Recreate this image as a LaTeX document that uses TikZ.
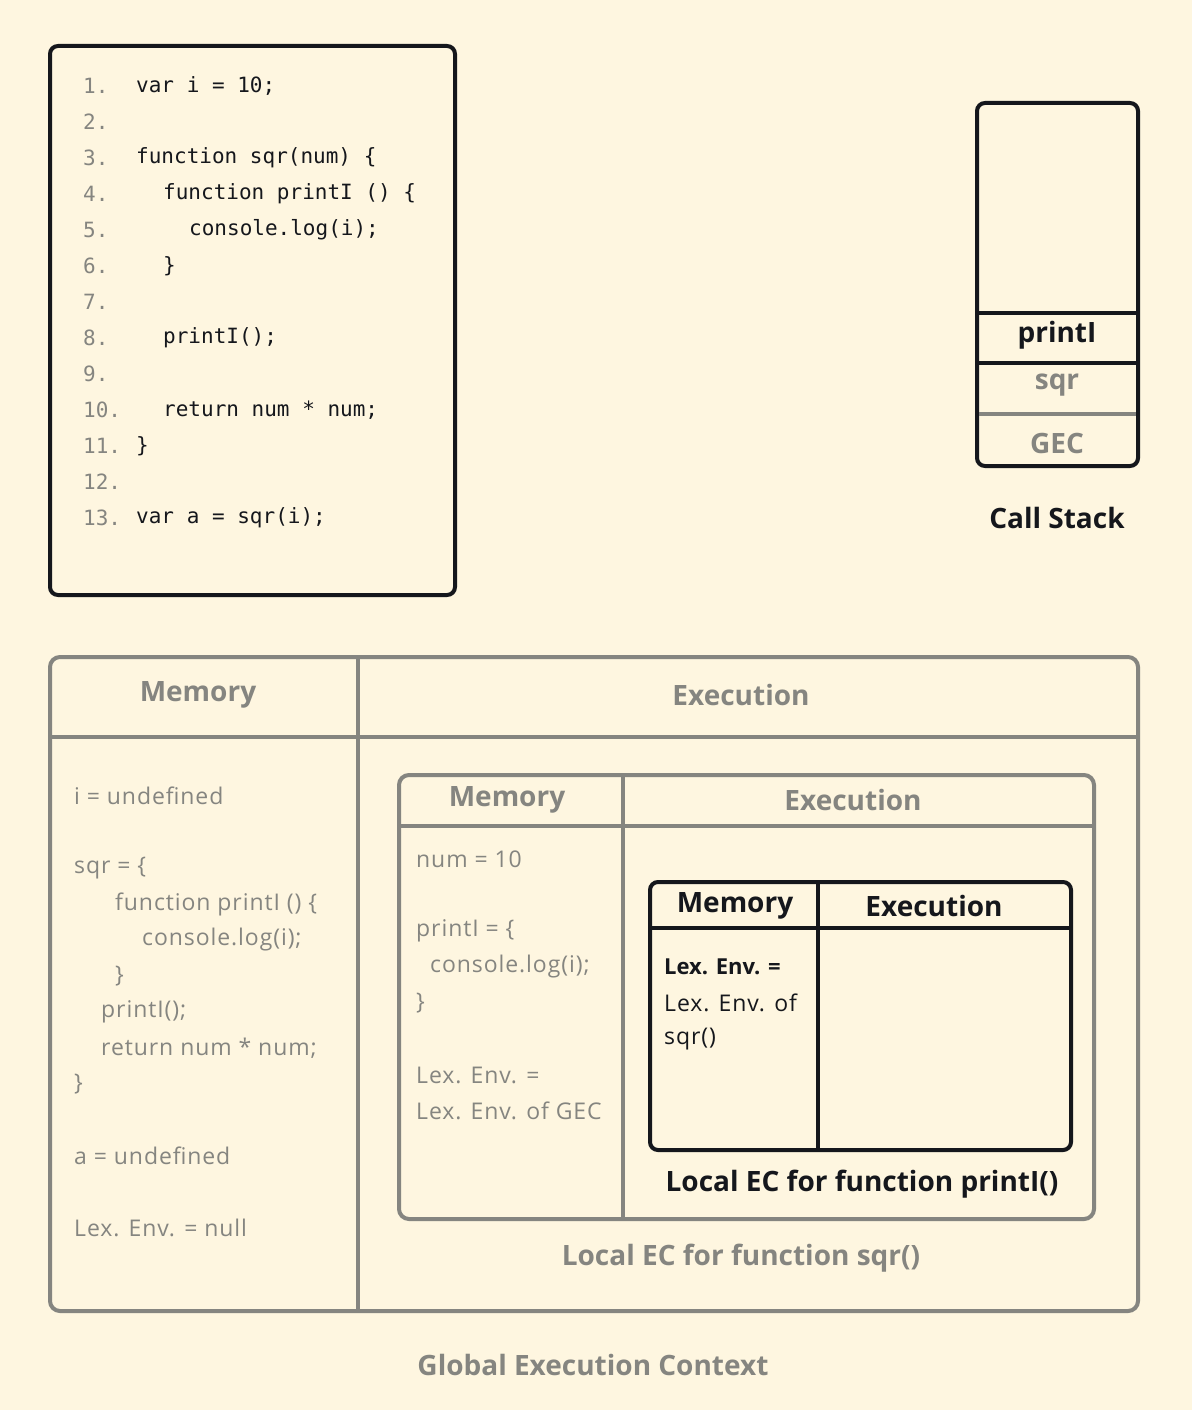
\documentclass[tikz,border=0pt]{standalone}
\usepackage{fontspec}
\setmainfont{Open Sans}
\newfontfamily\codefont{DejaVu Sans Mono}
\definecolor{bg}{HTML}{FEF6E0}
\definecolor{gr}{HTML}{858580}
\definecolor{dk}{HTML}{15171C}
\begin{document}
\begin{tikzpicture}[x=1pt,y=-1pt,
  dbox/.style={draw=dk,line width=4pt,rounded corners=8pt},
  gbox/.style={draw=gr,line width=4pt,rounded corners=10pt},
  code/.style={anchor=west,text=dk,font=\codefont\fontsize{21}{24}\selectfont,inner sep=0pt},
  num/.style={code,text=gr},
  big/.style={font=\bfseries\fontsize{28}{32}\selectfont,inner sep=0pt},
  txt/.style={anchor=west,inner sep=0pt,text=gr,font=\fontsize{23}{26}\selectfont\addfontfeature{LetterSpace=4}}]
\fill[bg] (0,0) rectangle (1192,1410);
\useasboundingbox (0,0) rectangle (1192,1410);
% code box
\draw[dbox] (50,46) rectangle (455,595);
\foreach \n/\y in {1/86,2/122,3/158,4/194,5/230,6/266,7/302,8/338,9/374,10/410,11/446,12/482,13/518}
  \node[num] (n\n) at (83,\y) {\n.};
\node[code] (c1) at (136,86) {var i = 10;};
\node[code] (c3) at (136,158) {function sqr(num) \{};
\node[code] (c4) at (163,194) {function printI () \{};
\node[code] (c5) at (189,230) {console.log(i);};
\node[code] (c6) at (163,266) {\}};
\node[code] (c8) at (163,338) {printI();};
\node[code] (c10) at (163,410) {return num * num;};
\node[code] (c11) at (136,446) {\}};
\node[code] (c13) at (136,518) {var a = sqr(i);};
% call stack
\draw[dbox] (977,103) rectangle (1138,466);
\draw[dk,line width=4pt] (977,313) -- (1138,313) (977,363) -- (1138,363);
\draw[gr,line width=4pt] (979,414) -- (1136,414);
\node[big,text=dk] (sp) at (1057,335) {printI};
\node[big,text=gr] (ss) at (1057,385) {sqr};
\node[big,text=gr] (sg) at (1057,443) {GEC};
\node[big,text=dk] (cs) at (1057,518) {Call Stack};
% GEC
\draw[gbox] (50,657) rectangle (1138,1311);
\draw[gr,line width=4pt] (358,657) -- (358,1311) (50,737) -- (1138,737);
\node[big,text=gr] (gm) at (198,695) {Memory};
\node[big,text=gr] (ge) at (741,695) {Execution};
\node[txt] at (74,796) {i = undefined};
\node[txt] at (74,868) {sqr = \{};
\node[txt] at (115,904) {function printI () \{};
\node[txt] at (142,940) {console.log(i);};
\node[txt] at (115,976) {\}};
\node[txt] at (101,1012) {printI();};
\node[txt] at (101,1048) {return num * num;};
\node[txt] at (74,1084) {\}};
\node[txt] at (74,1156) {a = undefined};
\node[txt] at (74,1228) {Lex. Env. = null};
% sqr EC
\draw[gbox] (399,775) rectangle (1094,1219);
\draw[gr,line width=4pt] (623,775) -- (623,1219) (399,826) -- (1094,826);
\node[big,text=gr] (sm) at (507,800) {Memory};
\node[big,text=gr] (se) at (853,800) {Execution};
\node[txt] at (416,859) {num = 10};
\node[txt] at (416,931) {printI = \{};
\node[txt] at (430,967) {console.log(i);};
\node[txt] at (416,1003) {\}};
\node[txt] at (416,1075) {Lex. Env. =};
\node[txt] at (416,1111) {Lex. Env. of GEC};
\node[big,text=gr] (sl) at (741,1258) {Local EC for function sqr()};
% printI EC
\draw[dbox] (650,882) rectangle (1071,1150);
\draw[dk,line width=4pt] (818,882) -- (818,1150) (650,928) -- (1071,928);
\node[big,text=dk] (pm) at (735,906) {Memory};
\node[big,text=dk] (pe) at (934,906) {Execution};
\node[txt,text=dk,font=\bfseries\fontsize{22}{26}\selectfont] at (664,967) {Lex. Env. =};
\node[txt,text=dk] at (664,1003) {Lex. Env. of};
\node[txt,text=dk] at (664,1039) {sqr()};
\node[big,text=dk] (pl) at (862,1184) {Local EC for function printI()};
\node[big,text=gr] (gl) at (593,1365) {Global Execution Context};
\end{tikzpicture}
\end{document}
